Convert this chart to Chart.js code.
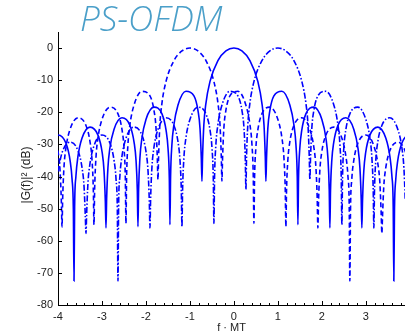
<!DOCTYPE html>
<html>
<head>
<meta charset="UTF-8">
<title>PS-OFDM</title>
<script src="https://cdn.jsdelivr.net/npm/chart.js"></script>
<style>
  body { margin: 0; background: #fff; }
</style>
</head>
<body>
<canvas id="psd" width="405" height="336"></canvas>
<script>
// spectrum of the centre pulse (solid), f*MT vs dB
const solidF = [
  -4.182, -4.000, -3.818, -3.724, -3.680, -3.651, -3.636,
  -3.622, -3.593, -3.549, -3.455, -3.273, -3.091, -2.996, -2.953, -2.924, -2.909,
  -2.894, -2.865, -2.822, -2.727, -2.545, -2.364, -2.269, -2.225, -2.196, -2.182,
  -2.167, -2.138, -2.095, -2.000, -1.818, -1.636, -1.542, -1.498, -1.469, -1.455,
  -1.440, -1.411, -1.367, -1.273, -1.091, -0.909, -0.815, -0.771, -0.742, -0.727,
  -0.713, -0.684, -0.640, -0.545, -0.364, -0.182, 0,
  0.182, 0.364, 0.545, 0.640, 0.684, 0.713, 0.727,
  0.742, 0.771, 0.815, 0.909, 1.091, 1.273, 1.367, 1.411, 1.440, 1.455,
  1.469, 1.498, 1.542, 1.636, 1.818, 2.000, 2.095, 2.138, 2.167, 2.182,
  2.196, 2.225, 2.269, 2.364, 2.545, 2.727, 2.822, 2.865, 2.894, 2.909,
  2.924, 2.953, 2.996, 3.091, 3.273, 3.455, 3.549, 3.593, 3.622, 3.636,
  3.651, 3.680, 3.724, 3.818, 4.000, 4.182
];
const solidDb = [
  -30.45, -27.05, -29.66, -35.11, -40.88, -50.3, -72.5,
  -49.53, -39.97, -33.99, -28.09, -24.61, -27.12, -32.52, -38.26, -47.67, -56,
  -46.88, -37.30, -31.30, -25.33, -21.72, -24.09, -29.41, -35.11, -44.48, -55.6,
  -43.97, -34.36, -28.31, -22.24, -18.40, -20.50, -25.65, -31.27, -40.59, -55,
  -39.92, -30.25, -24.11, -17.81, -13.47, -14.89, -19.61, -25.00, -34.16, -41.5,
  -33.81, -23.95, -17.51, -10.45, -3.92, -0.91, 0,
  -0.91, -3.92, -10.45, -17.51, -23.95, -33.81, -41.5,
  -34.16, -25.00, -19.61, -14.89, -13.47, -17.81, -24.11, -30.25, -39.92, -55,
  -40.59, -31.27, -25.65, -20.50, -18.40, -22.24, -28.31, -34.36, -43.97, -56,
  -44.48, -35.11, -29.41, -24.09, -21.72, -25.33, -31.30, -37.30, -46.88, -56,
  -47.67, -38.26, -32.52, -27.12, -24.61, -28.09, -33.99, -39.97, -49.53, -72.5,
  -50.3, -40.88, -35.11, -29.66, -27.05, -30.45
];

// neighbour at f = -1
const leftF = [
  -4.273, -4.091, -3.996, -3.953, -3.924, -3.909,
  -3.894, -3.865, -3.822, -3.727, -3.545, -3.364, -3.269, -3.225, -3.196, -3.182,
  -3.167, -3.138, -3.095, -3.000, -2.818, -2.636, -2.542, -2.498, -2.469, -2.455,
  -2.440, -2.411, -2.367, -2.273, -2.091, -1.909, -1.815, -1.771, -1.742, -1.727,
  -1.713, -1.684, -1.640, -1.545, -1.364, -1.182, -1.000, -0.818, -0.636, -0.455, -0.360, -0.316, -0.287, -0.273,
  -0.258, -0.229, -0.185, -0.091, 0.091, 0.273, 0.367, 0.411, 0.440, 0.455,
  0.469, 0.498, 0.542, 0.636, 0.818, 1.000, 1.095, 1.138, 1.167, 1.182,
  1.196, 1.225, 1.269, 1.364, 1.545, 1.727, 1.822, 1.865, 1.894, 1.909,
  1.924, 1.953, 1.996, 2.091, 2.273, 2.455, 2.549, 2.593, 2.622, 2.636,
  2.651, 2.680, 2.724, 2.818, 3.000, 3.182, 3.276, 3.320, 3.349, 3.364,
  3.378, 3.407, 3.451, 3.545, 3.727, 3.909, 4.004
];
const leftDb = [
  -24.61, -27.12, -32.52, -38.26, -47.67, -55.7,
  -46.88, -37.30, -31.30, -25.33, -21.72, -24.09, -29.41, -35.11, -44.48, -55,
  -43.97, -34.36, -28.31, -22.24, -18.40, -20.50, -25.65, -31.27, -40.59, -54.6,
  -39.92, -30.25, -24.11, -17.81, -13.47, -14.89, -19.61, -25.00, -34.16, -41,
  -33.81, -23.95, -17.51, -10.45, -3.92, -0.91, 0, -0.91, -3.92, -10.45, -17.51, -23.95, -33.81, -41.4,
  -34.16, -25.00, -19.61, -14.89, -13.47, -17.81, -24.11, -30.25, -39.92, -54.6,
  -40.59, -31.27, -25.65, -20.50, -18.40, -22.24, -28.31, -34.36, -43.97, -55.6,
  -44.48, -35.11, -29.41, -24.09, -21.72, -25.33, -31.30, -37.30, -46.88, -56,
  -47.67, -38.26, -32.52, -27.12, -24.61, -28.09, -33.99, -39.97, -49.53, -72.5,
  -50.3, -40.88, -35.11, -29.66, -27.05, -30.45, -36.31, -42.27, -51.82, -57.7,
  -52.68, -43.24, -37.46, -31.97, -29.30, -32.64, -38.48
];

// neighbour at f = +1
const rightF = [
  -4.004, -3.909, -3.727, -3.545, -3.451, -3.407, -3.378,
  -3.364, -3.349, -3.320, -3.276, -3.182, -3.000, -2.818, -2.724, -2.680, -2.651,
  -2.636, -2.622, -2.593, -2.549, -2.455, -2.273, -2.091, -1.996, -1.953, -1.924,
  -1.909, -1.894, -1.865, -1.822, -1.727, -1.545, -1.364, -1.269, -1.225, -1.196,
  -1.182, -1.167, -1.138, -1.095, -1.000, -0.818, -0.636, -0.542, -0.498, -0.469,
  -0.455, -0.440, -0.411, -0.367, -0.273, -0.091, 0.091, 0.185, 0.229, 0.258,
  0.273, 0.287, 0.316, 0.360, 0.455, 0.636, 0.818, 1.000, 1.182, 1.364, 1.545, 1.640, 1.684, 1.713,
  1.727, 1.742, 1.771, 1.815, 1.909, 2.091, 2.273, 2.367, 2.411, 2.440,
  2.455, 2.469, 2.498, 2.542, 2.636, 2.818, 3.000, 3.095, 3.138, 3.167,
  3.182, 3.196, 3.225, 3.269, 3.364, 3.545, 3.727, 3.822, 3.865, 3.894,
  3.909, 3.924, 3.953, 3.996, 4.091, 4.273
];
const rightDb = [
  -38.48, -32.64, -29.30, -31.97, -37.46, -43.24, -52.68,
  -57.7, -51.82, -42.27, -36.31, -30.45, -27.05, -29.66, -35.11, -40.88, -50.3,
  -72.5, -49.53, -39.97, -33.99, -28.09, -24.61, -27.12, -32.52, -38.26, -47.67,
  -56, -46.88, -37.30, -31.30, -25.33, -21.72, -24.09, -29.41, -35.11, -44.48,
  -55.6, -43.97, -34.36, -28.31, -22.24, -18.40, -20.50, -25.65, -31.27, -40.59,
  -54.6, -39.92, -30.25, -24.11, -17.81, -13.47, -14.89, -19.61, -25.00, -34.16,
  -44, -33.81, -23.95, -17.51, -10.45, -3.92, -0.91, 0, -0.91, -3.92, -10.45, -17.51, -23.95, -33.81,
  -41, -34.16, -25.00, -19.61, -14.89, -13.47, -17.81, -24.11, -30.25, -39.92,
  -55, -40.59, -31.27, -25.65, -20.50, -18.40, -22.24, -28.31, -34.36, -43.97,
  -56, -44.48, -35.11, -29.41, -24.09, -21.72, -25.33, -31.30, -37.30, -46.88,
  -55.7, -47.67, -38.26, -32.52, -27.12, -24.61
];

const xTicks = [-4, -3, -2, -1, 0, 1, 2, 3];
const yTicks = [-80, -70, -60, -50, -40, -30, -20, -10, 0];

const pts = (xs, ys) => xs.map((x, i) => ({ x: x, y: ys[i] }));

// MATLAB style ticks pointing into the axes, title and y label
const axisDecor = {
  id: 'axisDecor',
  afterDraw(chart) {
    const ctx = chart.ctx;
    const xs = chart.scales.x, ys = chart.scales.y;
    const area = chart.chartArea;
    ctx.save();
    ctx.strokeStyle = '#000';
    ctx.lineWidth = 1;
    ctx.beginPath();
    yTicks.forEach(v => {
      const py = Math.round(ys.getPixelForValue(v)) + 0.5;
      ctx.moveTo(area.left, py);
      ctx.lineTo(area.left + 4, py);
    });
    for (let v = -4; v <= 3.81; v += 0.2) {
      const px = Math.round(xs.getPixelForValue(v)) + 0.5;
      const major = Math.abs(v - Math.round(v)) < 0.01;
      ctx.moveTo(px, area.bottom);
      ctx.lineTo(px, area.bottom - (major ? 4 : 2));
    }
    ctx.stroke();

    ctx.font = 'italic 300 35px "Open Sans"';
    ctx.fillStyle = '#4a9fc9';
    ctx.textBaseline = 'alphabetic';
    ctx.fillText('PS-OFDM', 80, 31);

    // y label, a bit below the middle of the axis like the original
    ctx.translate(27, 175);
    ctx.rotate(-Math.PI / 2);
    ctx.font = '12px "Liberation Sans"';
    ctx.fillStyle = '#222';
    ctx.textAlign = 'center';
    ctx.textBaseline = 'middle';
    ctx.fillText('|G(f)|\u00b2 (dB)', 0, 0);
    ctx.restore();
  }
};

const lineStyle = {
  borderColor: '#0000ff',
  borderWidth: 1.6,
  pointRadius: 0,
  fill: false,
  cubicInterpolationMode: 'monotone'
};

new Chart(document.getElementById('psd'), {
  type: 'line',
  data: {
    datasets: [
      Object.assign({ data: pts(leftF, leftDb), borderDash: [5, 3] }, lineStyle),
      Object.assign({ data: pts(rightF, rightDb), borderDash: [6, 2, 1.5, 2] }, lineStyle),
      Object.assign({ data: pts(solidF, solidDb) }, lineStyle)
    ]
  },
  options: {
    responsive: false,
    animation: false,
    layout: { padding: { top: 32, right: 0, bottom: 0, left: 0 } },
    plugins: { legend: { display: false }, tooltip: { enabled: false } },
    scales: {
      x: {
        type: 'linear',
        min: -4,
        max: 3.89,
        afterBuildTicks: s => { s.ticks = xTicks.map(v => ({ value: v })); },
        afterFit: s => { s.height = 31; },
        grid: { drawOnChartArea: false, drawTicks: false },
        border: { color: '#000', width: 1 },
        ticks: { padding: 5, color: '#222', font: { family: 'Liberation Sans', size: 11 } },
        title: {
          display: true,
          text: 'f \u00b7 MT',
          color: '#222',
          font: { family: 'Liberation Sans', size: 11 },
          padding: { top: 0, bottom: 1 }
        }
      },
      y: {
        min: -80,
        max: 5,
        afterBuildTicks: s => { s.ticks = yTicks.map(v => ({ value: v })); },
        afterFit: s => { s.width = 58; },
        grid: { drawOnChartArea: false, drawTicks: false },
        border: { color: '#000', width: 1 },
        ticks: { padding: 5, color: '#222', font: { family: 'Liberation Sans', size: 11 } }
      }
    }
  },
  plugins: [axisDecor]
});
</script>
</body>
</html>
